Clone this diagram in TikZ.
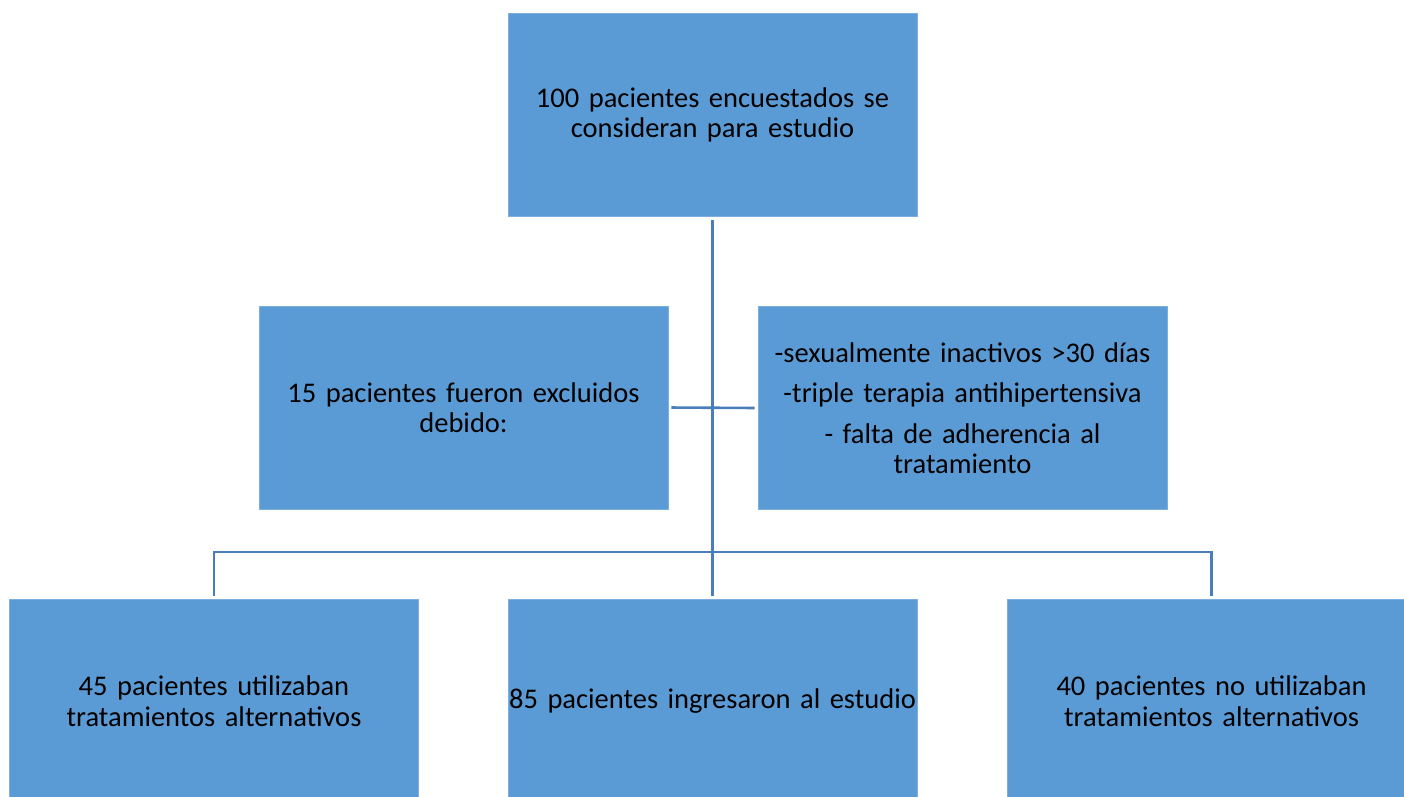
\documentclass[tikz,border=0pt]{standalone}
\usepackage{fontspec}
\setmainfont{Carlito}
\usepackage{tikz}
\usetikzlibrary{calc}
\definecolor{boxblue}{HTML}{5B9BD5}
\definecolor{lineblue}{HTML}{4A7EBB}

\begin{document}
\begin{tikzpicture}[x=1pt,y=-1pt,
  box/.style={fill=boxblue,draw=boxblue!80!white,line width=0.6pt,minimum width=409pt,minimum height=203pt,
    inner sep=0pt,align=center,text width=408pt,font=\fontsize{28.5}{30.5}\selectfont},
  link/.style={draw=lineblue,line width=2.6pt}]
\clip (0,0) rectangle (1404,796);
\node[box] (top) at (712.5,115) {100 pacientes encuestados se\\consideran para estudio};
\node[box] (exclL) at (463.5,407.5) {15 pacientes fueron excluidos\\debido:};
\node[box] (exclR) at (962.5,408) {-sexualmente inactivos >30 días\\[10pt]-triple terapia antihipertensiva\\[10pt]- falta de adherencia al\\tratamiento};
\node[box] (altY) at (214,701) {45 pacientes utilizaban\\tratamientos alternativos};
\node[box] (study) at (712.5,701) {85 pacientes ingresaron al estudio};
\node[box] (altN) at (1211.5,701) {40 pacientes no utilizaban\\tratamientos alternativos};
% connectors
\coordinate (split) at (712.5,552);
\draw[link,shorten <=3pt,shorten >=3pt] (top.south) -- (study.north);
\draw[link,shorten <=3pt,shorten >=3pt] (exclL.east) -- (exclR.west);
\draw[link,shorten <=3pt,shorten >=3pt] (altY.north) -- (split -| altY.north) -- (split -| altN.north) -- (altN.north);
\end{tikzpicture}
\end{document}
